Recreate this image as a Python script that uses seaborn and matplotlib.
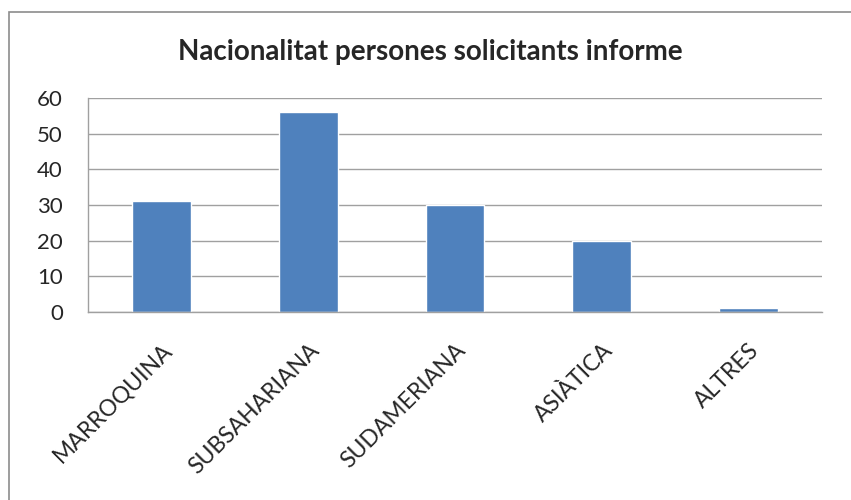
import matplotlib
matplotlib.use("Agg")
import matplotlib.pyplot as plt
from matplotlib.patches import Rectangle
import seaborn as sns
import pandas as pd

# Chart data
categories = ["MARROQUINA", "SUBSAHARIANA", "SUDAMERIANA", "ASIÀTICA", "ALTRES"]
values = [31, 56, 30, 20, 1]
yticks = [0, 10, 20, 30, 40, 50, 60]
title = "Nacionalitat persones solicitants informe"

df = pd.DataFrame({"nacionalitat": categories, "persones": values})

sns.set_style("white")
plt.rcParams["font.family"] = ["Lato", "DejaVu Sans"]

fig = plt.figure(figsize=(8.51, 5.0), dpi=100)
ax = fig.add_axes([88 / 851, 1 - 312 / 500, 734 / 851, 214 / 500])

sns.barplot(data=df, x="nacionalitat", y="persones", color="#4F81BD",
            saturation=1, width=0.4, ax=ax)

ax.set_ylim(0, 60)
ax.set_xlim(-0.5, len(categories) - 0.5)
ax.set_yticks(yticks)
ax.set_yticklabels([str(v) for v in yticks], fontsize=16)
ax.tick_params(axis="y", length=0, pad=18)
ax.tick_params(axis="x", length=0, pad=20)
ax.set_xticks(range(len(categories)))
ax.set_xticklabels(categories, rotation=45, ha="right", va="top",
                   rotation_mode="anchor", fontsize=16.5)
ax.set_xlabel("")
ax.set_ylabel("")
ax.yaxis.grid(True, color="#A0A0A0", linewidth=1)
ax.set_axisbelow(True)
for s in ["top", "right"]:
    ax.spines[s].set_visible(False)
for s in ["left", "bottom"]:
    ax.spines[s].set_color("#A0A0A0")
    ax.spines[s].set_linewidth(1)

fig.text(430 / 851, 1 - 52 / 500, title, ha="center", va="center",
         fontsize=20, fontweight="bold")

# outer chart border (left and top edges visible)
fig.patches.append(Rectangle((9 / 851, -0.1), 1.2, 1 - 12 / 500 + 0.1,
                             transform=fig.transFigure, fill=False,
                             edgecolor="#8C8C8C", linewidth=1.2))

fig.savefig("out.png", dpi=100)
